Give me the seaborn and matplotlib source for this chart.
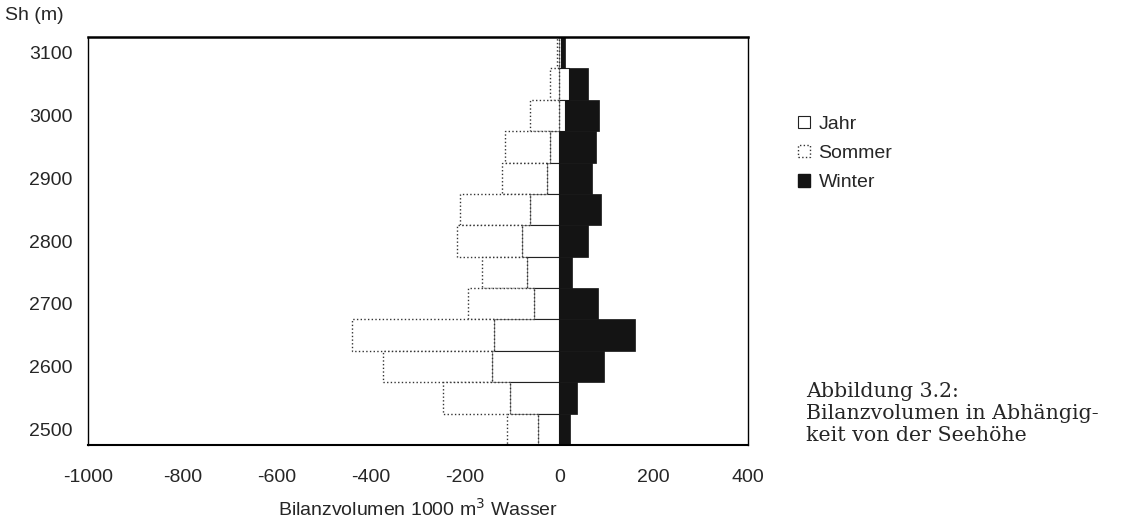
import numpy as np
import matplotlib
matplotlib.use("Agg")
import matplotlib.pyplot as plt
import seaborn as sns
from matplotlib.patches import Patch

# ---- data ----
elevations = ["3100", "3050", "3000", "2950", "2900", "2850", "2800",
              "2750", "2700", "2650", "2600", "2550", "2500"]
jahr = [3, 21, 11, -19, -27, -62, -79, -69, -55, -139, -142, -104, -46]
sommer = [-5, -20, -62, -96, -95, -148, -138, -95, -138, -300, -233, -142, -65]
winter = [8, 40, 72, 78, 69, 88, 60, 27, 81, 160, 94, 38, 23]
series_names = ["Jahr", "Sommer", "Winter"]
xticks = [-1000, -800, -600, -400, -200, 0, 200, 400]
ytick_labels = ["3100", "", "3000", "", "2900", "", "2800",
                "", "2700", "", "2600", "", "2500"]

sns.set_theme(style="white")
plt.rcParams["font.family"] = ["Liberation Sans", "DejaVu Sans"]

fig = plt.figure(figsize=(11.4, 5.25), dpi=100)
ax = fig.add_axes([88 / 1140, 1 - 445 / 525, (748 - 88) / 1140, (445 - 37) / 525])

j = np.array(jahr, dtype=float)
# stacking bases (positive and negative stacked separately, Excel style)
sommer_left = np.minimum(j, 0)
winter_left = np.maximum(j, 0)

sns.barplot(x=jahr, y=elevations, order=elevations, orient="h", width=1.0,
            color="white", saturation=1, errorbar=None, ax=ax,
            edgecolor="#222222", linewidth=0.8)
sns.barplot(x=sommer, y=elevations, order=elevations, orient="h", width=1.0,
            color="white", saturation=1, errorbar=None, ax=ax,
            edgecolor="#333333", linewidth=1.0, linestyle=":", left=sommer_left)
sns.barplot(x=winter, y=elevations, order=elevations, orient="h", width=1.0,
            color="#141414", saturation=1, errorbar=None, ax=ax,
            edgecolor="#141414", linewidth=0.5, left=winter_left)

ax.set_xlim(-1000, 400)
ax.set_ylim(len(elevations) - 0.5, -0.5)
ax.set_xticks(xticks)
ax.set_xticklabels([str(t) for t in xticks], fontsize=14)
ax.set_yticks(range(len(elevations)))
ax.set_yticklabels(ytick_labels, fontsize=14)
ax.tick_params(axis="y", length=0, pad=11)
ax.tick_params(axis="x", length=0, pad=17)
ax.set_ylabel("")
ax.set_xlabel("Bilanzvolumen 1000 m$^3$ Wasser", fontsize=14, labelpad=9)

for side, sp in ax.spines.items():
    sp.set_visible(True)
    sp.set_color("black")
    sp.set_linewidth(1.0)
ax.spines["top"].set_linewidth(1.8)
ax.spines["bottom"].set_linewidth(1.5)
ax.grid(False)

fig.text(5 / 1140, 1 - 15 / 525, "Sh (m)", fontsize=14, ha="left", va="center")

handles = [
    Patch(facecolor="white", edgecolor="#222222", linewidth=0.8, label=series_names[0]),
    Patch(facecolor="white", edgecolor="#333333", linewidth=1.0, linestyle=":", label=series_names[1]),
    Patch(facecolor="#141414", edgecolor="#141414", label=series_names[2]),
]
fig.legend(handles=handles, loc="upper left", bbox_to_anchor=(798 / 1140, 1 - 116 / 525),
           frameon=False, fontsize=14, handlelength=0.6, handleheight=0.6,
           handletextpad=0.45, labelspacing=0.62, borderpad=0, borderaxespad=0)

fig.text(806 / 1140, 1 - 382 / 525,
         "Abbildung 3.2:\nBilanzvolumen in Abhängig-\nkeit von der Seehöhe",
         family=["DejaVu Serif"], fontsize=14.8, ha="left", va="top", linespacing=1.2)

fig.savefig("out.png", dpi=100)
